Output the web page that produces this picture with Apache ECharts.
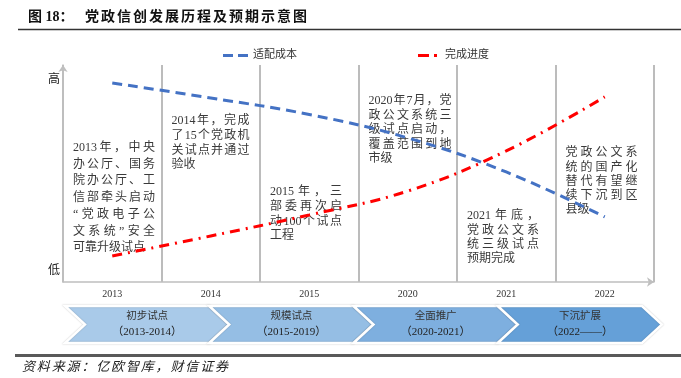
<!DOCTYPE html>
<html><head><meta charset="utf-8">
<script src="https://cdn.jsdelivr.net/npm/echarts@6/dist/echarts.min.js"></script>
<style>html,body{margin:0;padding:0;background:#fff}#c{width:681px;height:378px}</style>
</head><body><div id="c"></div>
<script>
// ---------- data ----------
const years = ['2013','2014','2015','2020','2021','2022'];
const seriesNames = ['适配成本','完成进度'];
const costValues = [91.7, 84.8, 77.2, 66.4, 50.7, 30.0];
const progressValues = [12.0, 21.2, 30.9, 41.9, 60.4, 85.3];
const yTickValues = [5, 93];
const yTickLabels = ['低','高'];
const phaseNames = ['初步试点','规模试点','全面推广','下沉扩展'];
const phaseYears = ['（2013-2014）','（2015-2019）','（2020-2021）','（2022——）'];
const notes = [
  ['2013年，中央','办公厅、国务','院办公厅、工','信部牵头启动','“党政电子公','文系统”安全','可靠升级试点'],
  ['2014年，完成','了15个党政机','关试点并通过','验收'],
  ['2015年，三','部委再次启','动100个试点','工程'],
  ['2020年7月，党','政公文系统三','级试点启动，','覆盖范围到地','市级'],
  ['2021年底，','党政公文系','统三级试点','预期完成'],
  ['党政公文系','统的国产化','替代有望继','续下沉到区','县级']
];
const titleText = '图 18：';
const titleRest = '党政信创发展历程及预期示意图';
const sourceText = '资料来源：亿欧智库，财信证券';

// ---------- layout / style ----------
const FONT = '"Liberation Serif","Noto Sans CJK SC"';
const noteLevels = [61.8, 74.2, 41.5, 83.4, 30.4, 59.4];   // y-value of first line
const noteWidths = [82, 78, 72, 83, 72, 72];
const noteLineH = [16.7, 14.7, 14.7, 14.5, 14.4, 14.3];
const phaseColors = ['#a9cae9','#95bee4','#7eafdf','#65a0d8'];
const ARROW = 20;
const blueIcon = 'path://M0,0h10v3h-10z M15,0h10v3h-10z';
const redIcon = 'path://M0,0h11v3h-11z M16,0h3v3h-3z M22,0h3v3h-3z';

const chart = echarts.init(document.getElementById('c'), null, {renderer:'canvas'});

const option = {
  animation: false,
  backgroundColor: '#fff',
  legend: {
    data: [
      {name: seriesNames[0], icon: blueIcon, itemStyle: {color: '#4472c4'}},
      {name: seriesNames[1], icon: 'path://M0,0h11v3h-11z M16,0h3v3h-3z', itemStyle: {color: '#ff0000'}}
    ],
    left: 218, top: 45, itemWidth: 25, itemHeight: 3, itemGap: 121,
    textStyle: {fontSize: 11, color: '#333', fontFamily: FONT}
  },
  grid: [
    {left: 63, right: 27, top: 65, bottom: 96, containLabel: false},
    {left: 65, top: 306, width: 577, height: 37, containLabel: false}
  ],
  xAxis: [
    {type: 'category', data: years, boundaryGap: true, gridIndex: 0,
     axisLine: {lineStyle: {color: '#bfbfbf', width: 1.5}, symbol: ['none','arrow'], symbolSize: [7, 7]},
     axisTick: {show: false},
     axisLabel: {fontSize: 10, color: '#333', fontFamily: FONT, margin: 7},
     splitLine: {show: true, lineStyle: {color: '#a6a6a6', width: 1.5}}},
    {type: 'value', min: 0, max: 4, gridIndex: 1, show: false}
  ],
  yAxis: [
    {type: 'value', min: 0, max: 100, gridIndex: 0, z: 5,
     axisLine: {show: true, lineStyle: {color: '#bfbfbf', width: 1.5}, symbol: ['none','arrow'], symbolSize: [7, 7]},
     axisTick: {show: false}, splitLine: {show: false},
     axisLabel: {customValues: yTickValues, fontSize: 12, color: '#222', fontFamily: FONT, margin: 3,
       formatter: v => yTickLabels[yTickValues.indexOf(v)] || ''}},
    {type: 'value', min: 0, max: 1, gridIndex: 1, show: false}
  ],
  series: [
    {name: seriesNames[0], type: 'line', data: costValues, symbol: 'none', smooth: 0.4,
     lineStyle: {color: '#4472c4', width: 3, type: [10, 6]}, itemStyle: {color: '#4472c4'}, z: 3},
    {name: seriesNames[1], type: 'line', data: progressValues, symbol: 'none', smooth: 0.4,
     lineStyle: {color: '#ff0000', width: 3, type: [10, 6, 2, 6]}, itemStyle: {color: '#ff0000'}, z: 3},
    {type: 'custom', xAxisIndex: 1, yAxisIndex: 1, clip: false, silent: true,
     data: phaseNames.map((n, i) => [i]),
     renderItem: function (params, api) {
       const i = api.value(0);
       const tl = api.coord([i, 1]);
       const br = api.coord([i + 1, 0]);
       const x0 = tl[0], x1 = br[0], top = tl[1], bot = br[1], mid = (top + bot) / 2;
       const cx = (x0 + x1 + ARROW) / 2;
       return {
         type: 'group',
         children: [
           {type: 'polygon', shape: {points: [[x0, top],[x1, top],[x1 + ARROW, mid],[x1, bot],[x0, bot],[x0 + ARROW, mid]]},
            style: {fill: phaseColors[params.dataIndex], stroke: '#fff', lineWidth: 2.5,
                    shadowBlur: 1.5, shadowColor: 'rgba(0,0,0,0.22)'}},
           {type: 'text', x: cx, y: top + 10.5,
            style: {text: phaseNames[params.dataIndex], align: 'center', verticalAlign: 'middle',
                    fontSize: 10.5, fontFamily: FONT, fill: '#333'}},
           {type: 'text', x: cx, y: top + 26.5,
            style: {text: phaseYears[params.dataIndex], align: 'center', verticalAlign: 'middle',
                    fontSize: 11, fontFamily: FONT, fill: '#222'}}
         ]
       };
     }}
  ]
};
chart.setOption(option);

// ---------- text helpers ----------
const mctx = document.createElement('canvas').getContext('2d');
function measure(t, size, weight, style) {
  mctx.font = (style || 'normal') + ' ' + (weight || 'normal') + ' ' + size + 'px ' + FONT;
  return mctx.measureText(t).width;
}
function lineEls(line, x, y, width, justify, st) {
  const toks = line.match(/[0-9A-Za-z.\-]+|[\s\S]/g);
  const ws = toks.map(t => measure(t, st.fontSize, st.fontWeight, st.fontStyle));
  const total = ws.reduce((a, b) => a + b, 0);
  let gap = 0;
  if (justify && toks.length > 1) gap = Math.max(0, (width - total) / (toks.length - 1));
  const els = [];
  let cx = x;
  toks.forEach((t, i) => {
    els.push({type: 'text', x: cx, y: y, silent: true,
      style: Object.assign({text: t, align: 'left', verticalAlign: 'middle', fontFamily: FONT}, st)});
    cx += ws[i] + gap;
  });
  return els;
}

const g = [];
// title
g.push({type: 'text', x: 28, y: 17, style: {text: titleText, fontSize: 14, fontWeight: 'bold', fontFamily: FONT, fill: '#111', verticalAlign: 'middle'}});
lineEls(titleRest, 85, 17, 222, true, {fontSize: 14, fontWeight: 'bold', fill: '#111'}).forEach(e => g.push(e));
g.push({type: 'line', shape: {x1: 18, y1: 29.5, x2: 681, y2: 29.5}, style: {stroke: '#333', lineWidth: 1.5}});
// bottom
g.push({type: 'line', shape: {x1: 15, y1: 355.5, x2: 681, y2: 355.5}, style: {stroke: '#595959', lineWidth: 3}});
lineEls(sourceText, 22, 368, 206, true, {fontSize: 13, fontStyle: 'italic', fill: '#222'}).forEach(e => g.push(e));

// notes
const band = (681 - 63 - 27) / years.length;
notes.forEach((lines, k) => {
  const c = chart.convertToPixel({xAxisIndex: 0, yAxisIndex: 0}, [years[k], noteLevels[k]]);
  const left = c[0] - band / 2 + 10;
  lines.forEach((ln, j) => {
    const isLast = j === lines.length - 1;
    lineEls(ln, left, c[1] + j * noteLineH[k], noteWidths[k], !isLast,
      {fontSize: 12, fill: '#3a3a3a'}).forEach(e => g.push(e));
  });
});
chart.setOption({graphic: g});
</script>
</body></html>
